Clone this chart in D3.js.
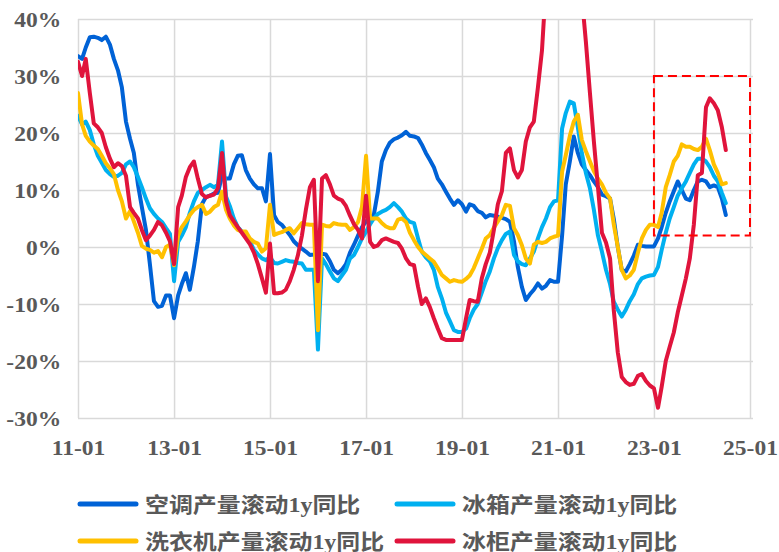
<!DOCTYPE html>
<html>
<head>
<meta charset="utf-8">
<script src="https://cdn.jsdelivr.net/npm/d3@7"></script>
<style>
  body { margin: 0; background: #fff; }
  svg { display: block; }
</style>
</head>
<body>
<svg id="chart" width="779" height="552"></svg>
<script>
// monthly rolling-1y yoy, 2011-01 .. 2024-07 (one row per year)
const acValues = [
  33.5, 33, 35, 36.8, 36.9, 36.7, 36.3, 36.9, 35.5, 33, 31, 28,
  22, 19, 16.5, 11, 7, 3, -3, -9.5, -10.5, -10.3, -8.5, -8.5,
  -12.5, -8.5, -6.5, -4.6, -7.5, -3.5, 1, 7.5, 8.8, 9, 9.4, 9.5,
  12.5, 12, 12, 14.5, 16, 16.1, 13.5, 12, 11, 10.3, 10.3, 8,
  16.3, 5.6, 4.4, 3.9, 3, 2.1, 1, 0.3, -0.3, -0.8, -1.4, -1.3,
  -1.1, -1.2, -1.3, -2.5, -4, -4.6, -4, -3, -1, 0.4, 2, 3.5,
  4.5, 5, 5.6, 9.7, 15, 17, 18.3, 18.9, 19.2, 19.6, 20.2, 19.5,
  19.4, 19.1, 18, 16.5, 15.3, 14, 12, 11, 9.7, 8.5, 7.4, 8.2,
  7.5, 6.2, 7.5, 7.2, 6.3, 6, 5.2, 5.6, 5.5, 5.3, 5.1, 4.9,
  4.4, 1, -3.5, -7, -9.3, -8.3, -7.5, -6.4, -7.3, -6.8, -5.8, -6.1,
  -6.1, 2, 11, 15, 19.4, 16.5, 14.5, 13.5, 12.6, 11.5, 10.5, 9.2,
  8.9, 8.5, 5, 0, -4, -4.3, -3, -1.5, 0.4, 0.2, 0.1, 0.1,
  0.1, 1.5, 3.5, 6, 8, 9.8, 11.5, 10, 8.5, 8.2, 10, 11.5,
  11.8, 11.5, 10.5, 10.8, 10.5, 8.5, 5.6
];

const fridgeValues = [
  23, 21.5, 22, 20.5, 18, 16, 14.8, 13.5, 12.8, 12.3, 12.5, 13,
  14.5, 15, 14, 12.3, 10.5, 8.5, 6.8, 5.8, 5, 4.4, 3.3, 2.3,
  -6, 0.9, 2, 3.5, 6, 8, 9.5, 10, 10.5, 10.9, 10.5, 10.9,
  18.5, 8.8, 7.2, 5, 3.5, 2.7, 2.3, 1, -0.5, -1.3, -2, -2.3,
  -1.8, -2.8, -2.9, -2.6, -2.3, -2.5, -2.6, -2.8, -2.9, -4, -4, -4,
  -18, -2, -3, -4.3, -5.5, -6, -5, -4, -2, -1.4, 0, 1.5,
  2.7, 4, 5, 5.8, 6.2, 6.5, 7, 7.7, 7, 6.2, 5, 4.4,
  4.2, 1.5, -0.8, -1.8, -2.5, -4, -7, -9, -11.5, -13, -14.6, -14.9,
  -14.9, -14.3, -12.5, -11, -10, -8, -6, -4.3, -2, -0.2, 1.2, 2.3,
  2.7, -1.4, -2.5, -3, -3.2, -2, -0.8, 1.5, 3.5, 5, 7, 8,
  8.2, 20.8, 23.5, 25.5, 25.2, 21, 16.5, 13, 10.3, 6.5, 2, -0.8,
  -4, -6.5, -9.6, -11, -12.2, -11, -9.5, -8.3, -6.5, -5.5, -5.2, -5,
  -4.9, -3.5, -0.5, 2.5, 5, 7, 9, 10.3, 11.5, 13, 14.5, 15.5,
  15.5, 15, 14, 12.5, 11.5, 9.5, 7.7
];

const washerValues = [
  27, 21.5, 19.5, 18.5, 17.8, 17.2, 16, 14.7, 13.8, 12.8, 10, 8,
  5, 6.3, 4.5, 2.5, 0.2, -0.3, -0.5, -1, -0.7, -1.8, 0, 0.4,
  -3.2, 2, 3.5, 4.5, 5.6, 6.5, 7, 7.4, 5.8, 6.2, 7, 7.4,
  9.7, 6.5, 5, 3.8, 3, 2.7, 2.7, 1.5, 0.9, 0.6, -0.8, -0.2,
  7.4, 2.1, 2.4, 2.6, 3, 3.3, 2.4, 3.3, 4.2, 4, 3.9, 3.9,
  -14.6, 3.9, 3.7, 3.6, 4.2, 4, 3.9, 3.9, 3, 3.5, 4.4, 7,
  16, 5, 5, 5, 4.2, 3.6, 3.3, 3.3, 4.8, 5, 4.4, 2.5,
  1.2, 0, -0.8, -1.4, -2, -2.6, -3.7, -4.9, -5.5, -6.1, -5.8, -6,
  -6.1, -5.6, -5, -3.7, -2, -0.3, 1.5, 2.1, 3.4, 4.5, 5.6, 7.4,
  7.2, 3.3, 2.1, 0.3, -2, -2.9, 0.4, 0.9, 0.7, 0.9, 1.5, 1.8,
  2, 13.2, 16.1, 19.5, 22, 23.2, 18.8, 16.8, 15, 13.3, 12, 11,
  9.5, 8.5, 4, 0, -4, -5.5, -5, -4, -1, 1.5, 3, 3.9,
  3.9, 3.5, 6, 10.5, 12.6, 15, 16, 18, 17.6, 17.6, 17.2, 17,
  17.6, 19, 17, 14.5, 13, 11, 11.2
];

const freezerValues = [
  32.5, 30, 33, 27, 21.7, 21, 20, 17.5, 15.5, 14, 14.7, 14.2,
  12.5, 7, 6, 5, 3, 1.2, 2, 3, 4.4, 3.8, 2.5, 1,
  -3, 7, 9, 12.3, 14, 15, 12, 9.3, 8.7, 9, 9.2, 10.3,
  16.5, 8, 5.6, 4.5, 3.5, 2.5, 1.5, 0.5, -1, -3, -5.5, -8,
  0.6, -8.1, -8.1, -8, -7.5, -6, -4, -1.5, 2, 6.5, 10.5, 11.8,
  -6, 12, 12.6, 11, 9, 8.5, 8.2, 7.2, 5.5, 4, 3, 1.5,
  9, 0.9, 0, 0.3, 1.2, 1.5, 1.2, 0.9, 0.7, -0.3, -2, -3,
  -3.2, -7, -10, -9, -10.5, -12.5, -14.3, -16, -16.3, -16.3, -16.3, -16.3,
  -16.3, -12.5, -9.3, -9.5, -9.6, -5.5, -3, -1, 3, 7.5, 9.8, 16.5,
  17.3, 13.5, 12.2, 13.5, 18.5, 21, 22, 28, 34.5, 46, 58, 68,
  75, 78, 74, 66, 58, 51, 44, 36, 27, 18.5, 10.5, 2.5,
  0.8, -2, -11, -18.5, -22.8, -23.7, -24.2, -24, -22.6, -22.3, -23.5, -24.3,
  -24.8, -28.2, -24.5, -20, -17.5, -15, -11.5, -8.5, -5.5, -2, 4, 12.6,
  13, 24.5, 26.1, 25.2, 24, 21, 17
];

const seriesNames = [
  "空调产量滚动1y同比",
  "冰箱产量滚动1y同比",
  "洗衣机产量滚动1y同比",
  "冰柜产量滚动1y同比"
];
const seriesColors = ["#0062d6", "#00b0f0", "#ffc000", "#e0143c"];

const xTickLabels = ["11-01", "13-01", "15-01", "17-01", "19-01", "21-01", "23-01", "25-01"];
const yTicks = [-30, -20, -10, 0, 10, 20, 30, 40];

// highlighted window: 23-01 .. 25-01, 2% .. 30%
const boxX = ["23-01", "25-01"];
const boxY = [2, 30];

const startMonth = new Date(2011, 0, 1);
const months = d3.timeMonth.range(startMonth, new Date(2024, 7, 1));
const parseTick = d3.timeParse("%y-%m");

const svg = d3.select("#chart");
const plotLeft = 78, plotRight = 750, gridRight = 753, plotTop = 19, plotBottom = 418;
const txtColor = "#595959";
const stretch = "scale(1.12,1)";

const xScale = d3.scaleTime()
  .domain([startMonth, new Date(2025, 0, 1)])
  .range([plotLeft, plotRight]);
const yScale = d3.scaleLinear().domain([-30, 40]).range([plotBottom, plotTop]);

// horizontal grid + y labels
const yAxis = svg.append("g")
  .attr("transform", `translate(${plotLeft},0)`)
  .call(d3.axisLeft(yScale).tickValues(yTicks).tickSize(-(gridRight - plotLeft)).tickFormat((d) => d + "%"));
yAxis.select(".domain").remove();
yAxis.selectAll("line").attr("stroke", "#d9d9d9").attr("stroke-width", 1.5);
yAxis.selectAll("text")
  .attr("x", -15)
  .attr("dy", "0.36em")
  .attr("transform", stretch)
  .attr("fill", txtColor)
  .style("font", "bold 21px 'Liberation Serif', 'Times New Roman', serif");

// vertical grid + x labels
const xAxis = svg.append("g")
  .attr("transform", `translate(0,${plotBottom})`)
  .call(d3.axisBottom(xScale)
    .tickValues(xTickLabels.map(parseTick))
    .tickSize(-(plotBottom - plotTop))
    .tickFormat(d3.timeFormat("%y-%m")));
xAxis.select(".domain").remove();
xAxis.selectAll("line").attr("stroke", "#d9d9d9").attr("stroke-width", 1.5);
xAxis.selectAll("text")
  .attr("y", 37)
  .attr("dy", 0)
  .attr("transform", stretch)
  .attr("fill", txtColor)
  .style("font", "bold 21px 'Liberation Serif', 'Times New Roman', serif");

svg.append("clipPath").attr("id", "plotClip")
  .append("rect")
  .attr("x", plotLeft).attr("y", plotTop)
  .attr("width", gridRight - plotLeft).attr("height", plotBottom - plotTop);

const allSeries = [acValues, fridgeValues, washerValues, freezerValues];

const valueLine = d3.line()
  .x((d, i) => xScale(months[i]))
  .y((d) => yScale(d));

svg.append("g")
  .attr("clip-path", "url(#plotClip)")
  .selectAll("path")
  .data(allSeries)
  .join("path")
  .attr("d", valueLine)
  .attr("fill", "none")
  .attr("stroke", (d, i) => seriesColors[i])
  .attr("stroke-width", 4)
  .attr("stroke-linejoin", "round")
  .attr("stroke-linecap", "round");

// dashed highlight box
const bx0 = xScale(parseTick(boxX[0])), bx1 = xScale(parseTick(boxX[1]));
svg.append("rect")
  .attr("x", bx0)
  .attr("y", yScale(boxY[1]))
  .attr("width", bx1 - bx0)
  .attr("height", yScale(boxY[0]) - yScale(boxY[1]))
  .attr("fill", "none")
  .attr("stroke", "#ff0000")
  .attr("stroke-width", 2)
  .attr("stroke-dasharray", "9,5");

// legend
const legendPos = [[80, 504], [397, 504], [80, 541], [397, 541]];
const legend = svg.append("g")
  .selectAll("g")
  .data(seriesNames)
  .join("g")
  .attr("transform", (d, i) => `translate(${legendPos[i][0]},${legendPos[i][1]})`);

legend.append("line")
  .attr("x1", 0).attr("x2", 56)
  .attr("stroke", (d, i) => seriesColors[i])
  .attr("stroke-width", 5)
  .attr("stroke-linecap", "round");

legend.append("text")
  .attr("x", 57)
  .attr("dy", "0.36em")
  .attr("transform", "scale(1.14,1)")
  .attr("fill", txtColor)
  .style("font", "bold 21px 'Liberation Serif', 'Noto Sans CJK SC', serif")
  .text((d) => d);
</script>
</body>
</html>
